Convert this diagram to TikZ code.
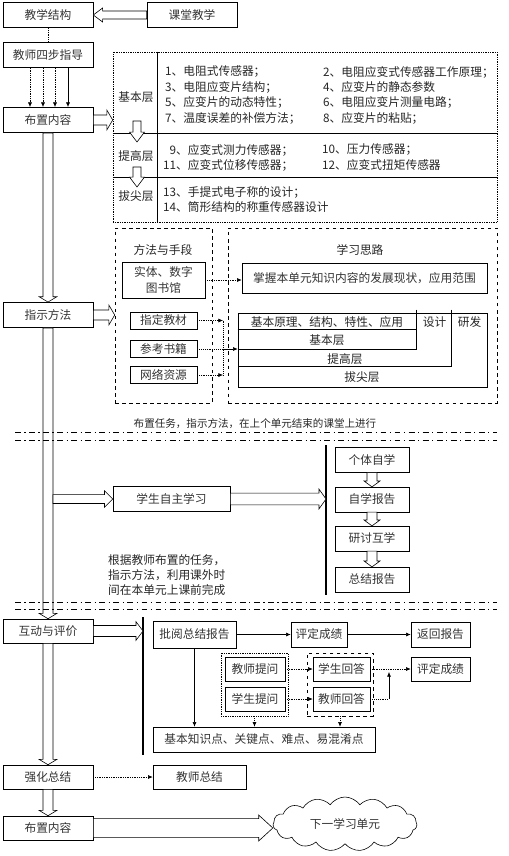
\documentclass[tikz,border=0pt]{standalone}
\usepackage{fontspec}
\setmainfont{Noto Sans CJK SC}
\usetikzlibrary{arrows.meta,calc,shapes.symbols}

\begin{document}
\begin{tikzpicture}[
  x=0.03cm, y=-0.03cm,
  font=\fontsize{10}{12}\selectfont,
  box/.style={rectangle, draw, line width=0.5pt, inner sep=1pt, text=black!80},
  lbox/.style={box, minimum width=2.7cm, minimum height=0.76cm},
  sbox/.style={box, minimum width=#1, minimum height=0.74cm},
  sbox/.default=1.75cm,
  txt/.style={anchor=west, inner sep=0pt, text=black!85},
  lbl/.style={inner sep=0pt, text=black!85},
  dots/.style={densely dotted, line width=0.6pt},
  arr/.style={-{Latex[length=4pt,width=3.5pt]}, line width=0.5pt},
  sep/.style={line width=0.5pt, dash pattern=on 5pt off 3pt on 1pt off 3pt},
  bar/.style={line width=0.9pt},
  hollow/.style n args={3}{draw, fill=white, line width=0.5pt,
    to path={let \p1=(\tikztostart), \p2=(\tikztotarget),
      \n1={atan2(\y2-\y1,\x2-\x1)} in
      ({\x1-#1*sin(\n1)},{\y1+#1*cos(\n1)})
      -- ({\x2-#2*cos(\n1)-#1*sin(\n1)},{\y2-#2*sin(\n1)+#1*cos(\n1)})
      -- ({\x2-#2*cos(\n1)-#3*sin(\n1)},{\y2-#2*sin(\n1)+#3*cos(\n1)})
      -- (\p2)
      -- ({\x2-#2*cos(\n1)+#3*sin(\n1)},{\y2-#2*sin(\n1)-#3*cos(\n1)})
      -- ({\x2-#2*cos(\n1)+#1*sin(\n1)},{\y2-#2*sin(\n1)-#1*cos(\n1)})
      -- ({\x1+#1*sin(\n1)},{\y1-#1*cos(\n1)}) -- cycle}}
]
  \useasboundingbox (0,0) rectangle (509,856);

  % Left column
  \node[lbox] (struct) at (48,15) {教学结构};
  \node[lbox] (class) at (192,15) {课堂教学};
  \node[lbox] (guide4) at (48,55) {教师四步指导};
  \node[lbox] (put1) at (48,120) {布置内容};
  \node[lbox] (guide) at (48,315) {指示方法};
  \node[lbox, minimum height=0.72cm] (inter) at (48,631) {互动与评价};
  \node[lbox, minimum height=0.72cm] (summ) at (48,777) {强化总结};
  \node[lbox, minimum height=0.72cm] (put2) at (48,828) {布置内容};

  \draw[hollow={3.4pt}{8pt}{6pt}] (class.west) to (struct.east);
  \draw[dots] (struct.south) -- (guide4.north);
  \foreach \dx in {-18,-5,7}
    \draw[dots, arr] ($(guide4.south)+(\dx,0)$) -- ($(put1.north)+(\dx,0)$);
  \draw[arr] ($(guide4.south)+(20,0)$) -- ($(put1.north)+(20,0)$);

  % Main shaft
  \draw[hollow={4.25pt}{4.5pt}{7.5pt}] (put1.south) to (guide.north);
  \draw[hollow={4.25pt}{4.5pt}{7.5pt}] (guide.south) to (inter.north);
  \draw[hollow={4.25pt}{4.5pt}{7.5pt}] (inter.south) to (summ.north);
  \draw[hollow={4.25pt}{4.5pt}{7.5pt}] (summ.south) to (put2.north);

  % Layers of content
  \node[box, densely dotted, minimum width=11.52cm, minimum height=5.1cm] (layers) at (305,137) {};
  \draw[line width=0.5pt] ($(layers.north west)+(45,0)$) -- ($(layers.south west)+(45,0)$);
  \draw[line width=0.5pt] ($(layers.north west)+(0,82)$) -- ($(layers.north east)+(0,82)$);
  \draw[line width=0.5pt] ($(layers.north west)+(0,126)$) -- ($(layers.north east)+(0,126)$);
  \draw[hollow={4.25pt}{5pt}{8.5pt}] (put1.east) to (put1.east -| layers.west);

  \node[lbl] (lv1) at (136,97) {基本层};
  \node[lbl] (lv2) at (136,156) {提高层};
  \node[lbl] (lv3) at (136,196) {拔尖层};
  \coordinate (d1) at (137,121);
  \coordinate (d2) at (137,142);
  \coordinate (d3) at (137,167);
  \coordinate (d4) at (137,187);
  \draw[hollow={3.4pt}{8.5pt}{6.4pt}] (d1) to (d2);
  \draw[hollow={3.4pt}{8.5pt}{6.4pt}] (d3) to (d4);

  \node[txt] (t1) at (165,72) {1、电阻式传感器；};
  \node[txt] (t2) at (323,72) {2、电阻应变式传感器工作原理；};
  \node[txt] (t3) at (165,87) {3、电阻应变片结构；};
  \node[txt] (t4) at (323,87) {4、应变片的静态参数};
  \node[txt] (t5) at (165,102) {5、应变片的动态特性；};
  \node[txt] (t6) at (323,102) {6、电阻应变片测量电路；};
  \node[txt] (t7) at (165,118) {7、温度误差的补偿方法；};
  \node[txt] (t8) at (323,118) {8、应变片的粘贴；};
  \node[txt] (t9) at (163,150) {\hphantom{1}9、应变式测力传感器；};
  \node[txt] (t10) at (322,150) {10、压力传感器；};
  \node[txt] (t11) at (163,165) {11、应变式位移传感器；};
  \node[txt] (t12) at (322,165) {12、应变式扭矩传感器};
  \node[txt] (t13) at (163,192) {13、手提式电子称的设计；};
  \node[txt] (t14) at (163,207) {14、筒形结构的称重传感器设计};

  % Methods and ideas
  \node[box, dashed, minimum width=2.91cm, minimum height=5.25cm] (methods) at (163.5,315.5) {};
  \node[box, dashed, minimum width=8.07cm, minimum height=5.25cm] (ideas) at (362.5,315.5) {};
  \draw[hollow={4.25pt}{5pt}{8.5pt}] (guide.east) to (guide.east -| methods.west);
  \node[lbl] (mtitle) at (163,250) {方法与手段};
  \node[lbl] (ititle) at (360,250) {学习思路};

  \node[box, minimum width=2.49cm, minimum height=1.08cm, align=center,
        font=\fontsize{10}{13}\selectfont] (lib) at (163.5,280) {实体、数字\\图书馆};
  \node[box, minimum width=7.35cm, minimum height=0.9cm] (grasp) at (364.5,278) {掌握本单元知识内容的发展现状，应用范围};
  \draw[dots, arr] (lib.east) -- (lib.east -| grasp.west);

  \node[box, minimum width=2.01cm, minimum height=0.51cm] (book1) at (163.5,320.5) {指定教材};
  \node[box, minimum width=2.01cm, minimum height=0.51cm] (book2) at (163.5,349) {参考书籍};
  \node[box, minimum width=2.01cm, minimum height=0.51cm] (book3) at (163.5,375) {网络资源};

  \node[box, minimum width=7.47cm, minimum height=2.22cm] (tab) at (362.5,350) {};
  \draw[line width=0.5pt] ($(tab.north west)+(0,17)$) -- ($(tab.north west)+(179,17)$);
  \draw[line width=0.5pt] ($(tab.north west)+(179,-3)$) |- ($(tab.north west)+(0,37)$);
  \draw[line width=0.5pt] ($(tab.north west)+(214,-3)$) |- ($(tab.north west)+(0,54)$);
  \node[lbl] (row0) at (327,322) {基本原理、结构、特性、应用};
  \node[lbl] (des) at (434.5,322) {设计};
  \node[lbl] (dev) at (469.5,322) {研发};
  \node[lbl] (row1) at (327,340) {基本层};
  \node[lbl] (row2) at (345,359) {提高层};
  \node[lbl] (row3) at (362,377) {拔尖层};

  \coordinate (jn) at (223,349);
  \draw[dots] (book1.east -| jn) -- (book3.east -| jn);
  \draw[dots, arr] (book1.east) -- (book1.east -| jn);
  \draw[dots, arr] (book3.east) -- (book3.east -| jn);
  \draw[dots] (book2.east) -- (jn);
  \draw[arr] (jn) -- (jn -| tab.west);

  % Separators
  \foreach \y in {432,440,602,609}
    \draw[sep] (15,\y) -- (497,\y);
  \node[lbl, font=\fontsize{9}{11}\selectfont] (note1) at (255,424) {布置任务，指示方法，在上个单元结束的课堂上进行};

  % Self study
  \node[sbox=3.51cm] (self) at (171.5,499) {学生自主学习};
  \coordinate (sr) at (53,499);
  \draw[hollow={3.8pt}{7pt}{7pt}] (sr) to (self.west);
  \coordinate (b1t) at (326,445);
  \coordinate (b1b) at (326,595);
  \draw[bar] (b1t) -- (b1b);
  \draw[hollow={5pt}{6pt}{8.5pt}] (self.east) to (self.east -| b1t);

  \node[sbox=2.22cm] (s1) at (372,460) {个体自学};
  \node[sbox=2.22cm] (s2) at (372,499.5) {自学报告};
  \node[sbox=2.22cm] (s3) at (372,538.5) {研讨互学};
  \node[sbox=2.22cm] (s4) at (372,579.5) {总结报告};
  \draw[hollow={4.25pt}{5pt}{6.8pt}] (s1.south) to (s2.north);
  \draw[hollow={4.25pt}{5pt}{6.8pt}] (s2.south) to (s3.north);
  \draw[hollow={4.25pt}{5pt}{6.8pt}] (s3.south) to (s4.north);

  \node[lbl, anchor=north west, align=left, font=\fontsize{10}{12.8}\selectfont]
    (note2) at (108,554) {根据教师布置的任务，\\指示方法，利用课外时\\间在本单元上课前完成};

  % Interaction and evaluation
  \coordinate (b2t) at (143,617);
  \coordinate (b2b) at (143,755);
  \draw[bar] (b2t) -- (b2b);
  \draw[hollow={4.7pt}{6pt}{8pt}] (inter.east) to (inter.east -| b2t);

  \node[box, minimum width=2.49cm, minimum height=0.81cm] (rev) at (194.5,634.5) {批阅总结报告};
  \node[sbox=1.68cm] (grade1) at (319,634.5) {评定成绩};
  \node[sbox=1.77cm] (ret) at (440.5,634.5) {返回报告};
  \draw[arr] (rev.east) -- (grade1.west);
  \draw[arr] (grade1.east) -- (ret.west);

  \node[box, densely dotted, minimum width=2.01cm, minimum height=1.89cm] (qbox) at (254.5,684.5) {};
  \node[box, dashed, minimum width=1.98cm, minimum height=1.89cm] (abox) at (340,684.5) {};
  \node[box, minimum width=1.8cm, minimum height=0.72cm] (tq) at (255,669) {教师提问};
  \node[box, minimum width=1.8cm, minimum height=0.72cm] (sq) at (255,699) {学生提问};
  \node[box, minimum width=1.71cm, minimum height=0.72cm] (sa) at (341.5,669) {学生回答};
  \node[box, minimum width=1.71cm, minimum height=0.72cm] (ta) at (341.5,699) {教师回答};
  \node[box, minimum width=1.77cm, minimum height=0.72cm] (grade2) at (440.5,669) {评定成绩};
  \draw[dots, arr] (tq.east) -- (sa.west);
  \draw[dots, arr] (sq.east) -- (ta.west);
  \draw[dots, arr] (sa.east) -- (grade2.west);
  \coordinate (mj) at (389,672);
  \draw[dots] (ta.east) -- (ta.east -| mj);
  \draw[arr] (ta.east -| mj) -- (mj);

  \node[box, minimum width=6.66cm, minimum height=0.75cm] (key) at (264,739.5) {基本知识点、关键点、难点、易混淆点};
  \draw[arr] (rev.south) -- (rev.south |- key.north);
  \draw[dots, arr] (qbox.south) -- (qbox.south |- key.north);
  \draw[dots, arr] (abox.south) -- (abox.south |- key.north);

  % Summary and next unit
  \node[box, minimum width=2.79cm, minimum height=0.72cm] (tsum) at (199.5,777) {教师总结};
  \draw[dots, arr] (summ.east) -- (tsum.west);
  \node[cloud, draw, line width=0.5pt, cloud puffs=15, cloud puff arc=110, aspect=2.6,
        minimum width=4.32cm, minimum height=1.62cm, inner sep=0pt, text=black!80] (next) at (345,824) {下一学习单元};
  \draw[hollow={8pt}{12pt}{11pt}] (put2.east) to (put2.east -| next.west);
\end{tikzpicture}
\end{document}
